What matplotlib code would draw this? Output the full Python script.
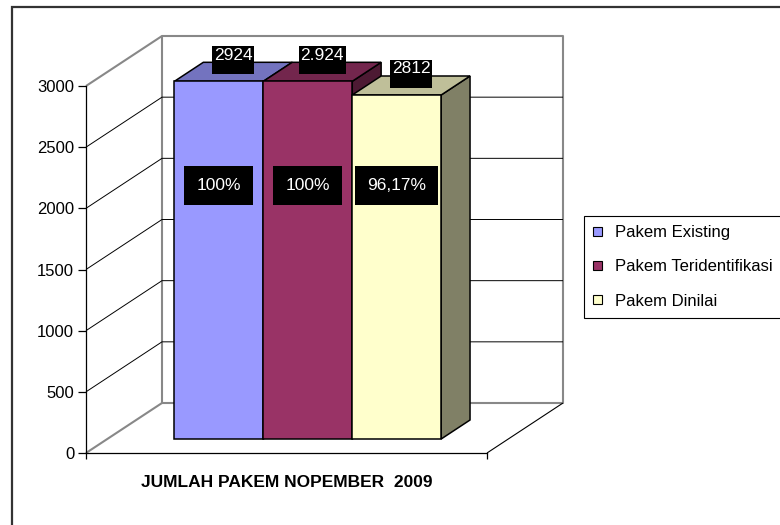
import matplotlib
matplotlib.use("Agg")
import matplotlib.pyplot as plt
from matplotlib.patches import Polygon, Patch, Rectangle
from matplotlib.colors import to_rgb

plt.rcParams['font.family'] = ['Liberation Sans', 'DejaVu Sans']

# data
series = ['Pakem Existing', 'Pakem Teridentifikasi', 'Pakem Dinilai']
values = [2924, 2924, 2812]
value_labels = ['2924', '2.924', '2812']
pct_labels = ['100%', '100%', '96,17%']
category = 'JUMLAH PAKEM NOPEMBER  2009'
y_ticks = [0, 500, 1000, 1500, 2000, 2500, 3000]
front_colors = ['#9999FF', '#993366', '#FFFFCC']

# layout of the fake 3d box (pixels of the 780x525 picture)
W_PX, H_PX = 780, 525
X0_PX, X1_PX = 86, 487        # front floor edge
Y0_PX, YTOP_PX = 453, 86      # value 0 and value 3000 on the front axis
YMAX = 3000
DEPTH_DX_PX, DEPTH_DY_PX = 76, 50

px_per_u = X1_PX - X0_PX
px_per_v = (Y0_PX - YTOP_PX) / YMAX
DEPTH_U = DEPTH_DX_PX / px_per_u
DEPTH_V = DEPTH_DY_PX / px_per_v

# bars sit between these depths (0 = front, 1 = back wall)
D_FRONT, D_BACK = 0.28, 0.66
GROUP_LEFT, BAR_W = 0.1675, 0.2217
PCT_LABEL_V = 2070


def proj(u, v, d):
    """oblique projection of (category pos, value, depth) onto the axes"""
    return (u + d * DEPTH_U, v + d * DEPTH_V)


def shade(color, f):
    r, g, b = to_rgb(color)
    return (r * f, g * f, b * f)


def line3d(ax, pts, **kw):
    xy = [proj(*p) for p in pts]
    ax.plot([p[0] for p in xy], [p[1] for p in xy], solid_capstyle='butt', **kw)


fig = plt.figure(figsize=(W_PX / 100, H_PX / 100), dpi=100)
ax = fig.add_axes([0, 0, 1, 1])
ax.set_xlim(-X0_PX / px_per_u, (W_PX - X0_PX) / px_per_u)
ax.set_ylim(-(H_PX - Y0_PX) / px_per_v, Y0_PX / px_per_v)
ax.patch.set_visible(False)

# axes: front left edge and front floor edge
for s in ['top', 'right']:
    ax.spines[s].set_visible(False)
ax.spines['left'].set_position(('data', 0))
ax.spines['left'].set_bounds(0, YMAX)
ax.spines['bottom'].set_position(('data', 0))
ax.spines['bottom'].set_bounds(0, 1)
for s in ['left', 'bottom']:
    ax.spines[s].set_linewidth(0.9)
    ax.spines[s].set_zorder(5)

ax.set_yticks(y_ticks)
ax.tick_params(axis='y', direction='out', length=5.5, width=0.9, pad=3, labelsize=12)
ax.set_xticks([0, 1])
ax.set_xticklabels(['', ''])
ax.set_xticks([0.5], minor=True)
ax.set_xticklabels([category], minor=True, fontweight='bold')
ax.tick_params(axis='x', which='major', direction='out', length=4.5, width=0.9)
ax.tick_params(axis='x', which='minor', length=0, pad=16, labelsize=12.5)

# walls and floor
gray = '#888888'
line3d(ax, [(0, 0, 1), (0, YMAX, 1), (1, YMAX, 1), (1, 0, 1), (0, 0, 1)],
       color=gray, lw=1.5, zorder=1)
line3d(ax, [(0, 0, 0), (0, 0, 1)], color=gray, lw=1.5, zorder=1)
line3d(ax, [(0, YMAX, 0), (0, YMAX, 1)], color=gray, lw=1.5, zorder=1)
line3d(ax, [(1, 0, 0), (1, 0, 1)], color='black', lw=0.8, zorder=1)
for v in y_ticks[1:-1]:
    line3d(ax, [(0, v, 0), (0, v, 1), (1, v, 1)], color='black', lw=0.7, zorder=1)

# bars
for i, (h, c) in enumerate(zip(values, front_colors)):
    u0 = GROUP_LEFT + i * BAR_W
    u1 = u0 + BAR_W
    side = [proj(u1, 0, D_FRONT), proj(u1, 0, D_BACK), proj(u1, h, D_BACK), proj(u1, h, D_FRONT)]
    top = [proj(u0, h, D_FRONT), proj(u1, h, D_FRONT), proj(u1, h, D_BACK), proj(u0, h, D_BACK)]
    front = [proj(u0, 0, D_FRONT), proj(u1, 0, D_FRONT), proj(u1, h, D_FRONT), proj(u0, h, D_FRONT)]
    z = 2 + i
    ax.add_patch(Polygon(side, closed=True, fc=shade(c, 0.5), ec='black', lw=1.1, zorder=z))
    ax.add_patch(Polygon(top, closed=True, fc=shade(c, 0.75), ec='black', lw=1.1, zorder=z))
    ax.add_patch(Polygon(front, closed=True, fc=c, ec='black', lw=1.1, zorder=z))

# labels
for i, h in enumerate(values):
    uc = GROUP_LEFT + (i + 0.5) * BAR_W
    x, y = proj(uc, h + 95, (D_FRONT + D_BACK) / 2)
    ax.text(x, y, value_labels[i] + '\n', ha='center', va='center', color='white',
            fontsize=12.5, linespacing=0.57, zorder=10,
            bbox=dict(boxstyle='square,pad=0.1', fc='black', ec='none'))
    x, y = proj(uc, PCT_LABEL_V, D_FRONT)
    ax.text(x, y, pct_labels[i], ha='center', va='center', color='white',
            fontsize=12.5, zorder=10,
            bbox=dict(boxstyle='square,pad=0.7', fc='black', ec='none'))

# legend
handles = [Patch(facecolor=c, edgecolor='black', lw=0.8) for c in front_colors]
leg = ax.legend(handles, series, loc='upper left',
                bbox_to_anchor=(584 / W_PX, 1 - 216 / H_PX), bbox_transform=fig.transFigure,
                fontsize=12, fancybox=False, framealpha=1, edgecolor='black',
                handlelength=0.5, handleheight=0.5, handletextpad=0.8,
                labelspacing=1.15, borderpad=0.55, borderaxespad=0)
leg.get_frame().set_linewidth(0.8)

# chart area border, cut off on the right and bottom like the original
fig.add_artist(Rectangle((12 / W_PX, -0.1), 1.2, 1.1 - 6.5 / H_PX, transform=fig.transFigure,
                         fill=False, ec='#333333', lw=1.6))

fig.savefig('out.png', dpi=100)
